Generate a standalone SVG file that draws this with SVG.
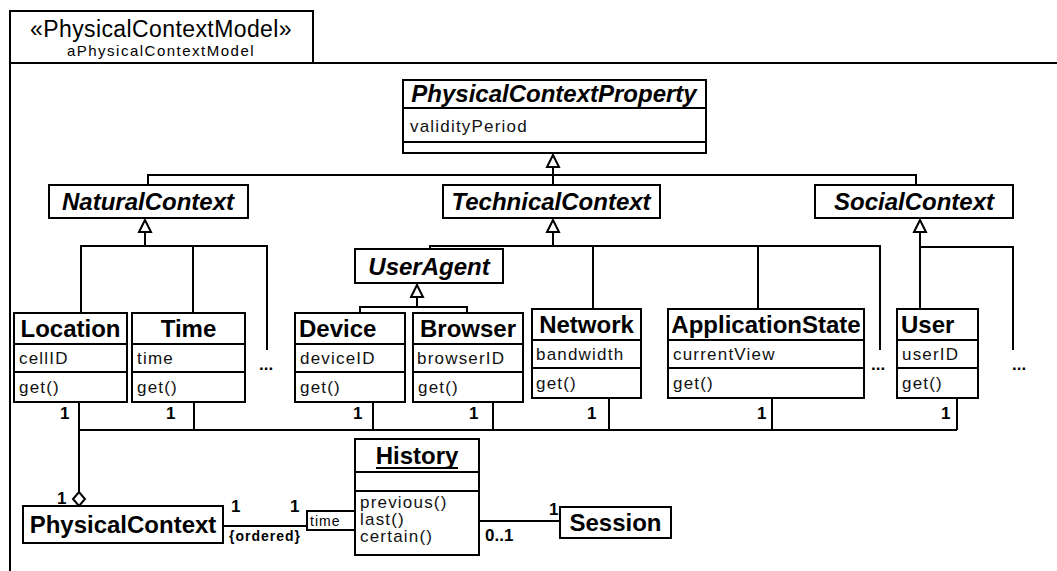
<svg xmlns="http://www.w3.org/2000/svg" width="1057" height="571" viewBox="0 0 1057 571">
<style>
.box{fill:#fff;stroke:#000;stroke-width:2}
.ln{fill:none;stroke:#000;stroke-width:2}
.tri{fill:#fff;stroke:#000;stroke-width:2;stroke-linejoin:miter}
.cn{font-family:"Liberation Sans",Arial,sans-serif;font-weight:bold;font-size:24px;text-anchor:middle;fill:#000}
.cl{font-family:"Liberation Sans",Arial,sans-serif;font-weight:bold;font-size:24px;fill:#000}
.an{font-family:"Liberation Sans",Arial,sans-serif;font-weight:bold;font-style:italic;font-size:24px;text-anchor:middle;fill:#000}
.at{font-family:"Liberation Sans",Arial,sans-serif;font-size:17px;letter-spacing:1.2px;fill:#111}
.m{font-family:"Liberation Sans",Arial,sans-serif;font-weight:bold;font-size:17px;fill:#000}
.sm{font-family:"Liberation Sans",Arial,sans-serif;font-size:14px;letter-spacing:1px;fill:#000}
</style>
<rect width="1057" height="571" fill="#fff"/>
<g id="frame">
<polyline class="ln" points="1057,63 10,63 10,571"/>
<rect class="box" x="10" y="11" width="303" height="52"/>
<text x="161" y="37" font-family="Liberation Sans, Arial, sans-serif" font-size="23" letter-spacing="0.4" text-anchor="middle">«PhysicalContextModel»</text>
<text x="161" y="56" font-family="Liberation Sans, Arial, sans-serif" font-size="15" letter-spacing="1.5" text-anchor="middle">aPhysicalContextModel</text>
</g>
<g id="connectors">
<polygon class="tri" points="553,155 547,167 559,167"/>
<polyline class="ln" points="553,167 553,185"/>
<polyline class="ln" points="148,185 148,175 916,175 916,185"/>
<polygon class="tri" points="145,220 139,232 151,232"/>
<polyline class="ln" points="145,232 145,246"/>
<polyline class="ln" points="81,313 81,246 267,246 267,350"/>
<polyline class="ln" points="193,246 193,313"/>
<polygon class="tri" points="553,220 547,232 559,232"/>
<polyline class="ln" points="553,232 553,246"/>
<polyline class="ln" points="430,249 430,246 880,246 880,350"/>
<polyline class="ln" points="593,246 593,309"/>
<polyline class="ln" points="758,246 758,309"/>
<polygon class="tri" points="920,220 914,232 926,232"/>
<polyline class="ln" points="920,232 920,309"/>
<polyline class="ln" points="920,247 1013,247 1013,350"/>
<polygon class="tri" points="417,285 411,297 423,297"/>
<polyline class="ln" points="417,297 417,307"/>
<polyline class="ln" points="360,313 360,307 467,307 467,313"/>
<polyline class="ln" points="79,402 79,492"/>
<polyline class="ln" points="79,430 957,430"/>
<polyline class="ln" points="194,402 194,430"/>
<polyline class="ln" points="373,402 373,430"/>
<polyline class="ln" points="493,402 493,430"/>
<polyline class="ln" points="609,398 609,430"/>
<polyline class="ln" points="772,398 772,430"/>
<polyline class="ln" points="957,398 957,430"/>
<polygon class="tri" points="79,492 73,499 79,506 85,499"/>
<polyline class="ln" points="223,526 307,526"/>
<polyline class="ln" points="479,521 560,521"/>
<text class="m" x="60" y="419">1</text>
<text class="m" x="166" y="419">1</text>
<text class="m" x="353" y="419">1</text>
<text class="m" x="469" y="419">1</text>
<text class="m" x="587" y="419">1</text>
<text class="m" x="757" y="419">1</text>
<text class="m" x="941" y="419">1</text>
<text class="m" x="57" y="504">1</text>
<text class="m" x="231" y="512">1</text>
<text class="m" x="290" y="512">1</text>
<text class="sm" x="229" y="541" font-weight="bold">{ordered}</text>
<text class="m" x="485" y="541">0..1</text>
<text class="m" x="549" y="515">1</text>
<text class="m" x="259" y="370">...</text>
<text class="m" x="871" y="370">...</text>
<text class="m" x="1012" y="370">...</text>
</g>
<g id="PhysicalContextProperty">
<rect class="box" x="403" y="80" width="303" height="73"/>
<line class="ln" x1="403" y1="108" x2="706" y2="108"/>
<line class="ln" x1="403" y1="142" x2="706" y2="142"/>
<text class="an" x="554" y="102">PhysicalContextProperty</text>
<text class="at" x="410" y="132">validityPeriod</text>
</g>
<g id="NaturalContext">
<rect class="box" x="49" y="185" width="199" height="33"/>
<text class="an" x="148" y="210">NaturalContext</text>
</g>
<g id="TechnicalContext">
<rect class="box" x="443" y="185" width="217" height="33"/>
<text class="an" x="551" y="210">TechnicalContext</text>
</g>
<g id="SocialContext">
<rect class="box" x="815" y="185" width="198" height="33"/>
<text class="an" x="914" y="210">SocialContext</text>
</g>
<g id="UserAgent">
<rect class="box" x="355" y="249" width="148" height="34"/>
<text class="an" x="429" y="275">UserAgent</text>
</g>
<g id="Location">
<rect class="box" x="14" y="313" width="113" height="89"/>
<line class="ln" x1="14" y1="344" x2="127" y2="344"/>
<line class="ln" x1="14" y1="372" x2="127" y2="372"/>
<text class="cn" x="70.5" y="337">Location</text>
<text class="at" x="19" y="364">cellID</text>
<text class="at" x="19" y="393">get()</text>
</g>
<g id="Time">
<rect class="box" x="132" y="313" width="113" height="89"/>
<line class="ln" x1="132" y1="344" x2="245" y2="344"/>
<line class="ln" x1="132" y1="372" x2="245" y2="372"/>
<text class="cn" x="188.5" y="337">Time</text>
<text class="at" x="137" y="364" fill="#555">time</text>
<text class="at" x="137" y="393">get()</text>
</g>
<g id="Device">
<rect class="box" x="295" y="313" width="110" height="89"/>
<line class="ln" x1="295" y1="344" x2="405" y2="344"/>
<line class="ln" x1="295" y1="372" x2="405" y2="372"/>
<text class="cl" x="299" y="337">Device</text>
<text class="at" x="300" y="364">deviceID</text>
<text class="at" x="300" y="393">get()</text>
</g>
<g id="Browser">
<rect class="box" x="413" y="313" width="110" height="89"/>
<line class="ln" x1="413" y1="344" x2="523" y2="344"/>
<line class="ln" x1="413" y1="372" x2="523" y2="372"/>
<text class="cn" x="468" y="337">Browser</text>
<text class="at" x="417" y="364">browserID</text>
<text class="at" x="418" y="393">get()</text>
</g>
<g id="Network">
<rect class="box" x="532" y="309" width="109" height="89"/>
<line class="ln" x1="532" y1="340" x2="641" y2="340"/>
<line class="ln" x1="532" y1="368" x2="641" y2="368"/>
<text class="cn" x="586.5" y="333">Network</text>
<text class="at" x="536" y="360">bandwidth</text>
<text class="at" x="536" y="389">get()</text>
</g>
<g id="ApplicationState">
<rect class="box" x="668" y="309" width="196" height="89"/>
<line class="ln" x1="668" y1="340" x2="864" y2="340"/>
<line class="ln" x1="668" y1="368" x2="864" y2="368"/>
<text class="cn" x="766" y="333">ApplicationState</text>
<text class="at" x="673" y="360">currentView</text>
<text class="at" x="673" y="389">get()</text>
</g>
<g id="User">
<rect class="box" x="897" y="309" width="81" height="89"/>
<line class="ln" x1="897" y1="340" x2="978" y2="340"/>
<line class="ln" x1="897" y1="368" x2="978" y2="368"/>
<text class="cl" x="901" y="333">User</text>
<text class="at" x="902" y="360">userID</text>
<text class="at" x="902" y="389">get()</text>
</g>
<g id="PhysicalContext">
<rect class="box" x="23" y="506" width="200" height="37"/>
<text class="cn" x="123" y="533">PhysicalContext</text>
</g>
<g id="History">
<rect class="box" x="355" y="439" width="124" height="116"/>
<line class="ln" x1="355" y1="472" x2="479" y2="472"/>
<line class="ln" x1="355" y1="491" x2="479" y2="491"/>
<text class="cn" x="417" y="464">History</text>
<line x1="376" y1="468" x2="458" y2="468" stroke="#000" stroke-width="2"/>
<text class="at" x="360" y="508">previous()</text>
<text class="at" x="360" y="525">last()</text>
<text class="at" x="360" y="542">certain()</text>
</g>
<g id="timeQualifier">
<rect class="box" x="307" y="511" width="48" height="19"/>
<text class="sm" x="310" y="526">time</text>
</g>
<g id="Session">
<rect class="box" x="560" y="507" width="111" height="31"/>
<text class="cn" x="615.5" y="531">Session</text>
</g>
</svg>
